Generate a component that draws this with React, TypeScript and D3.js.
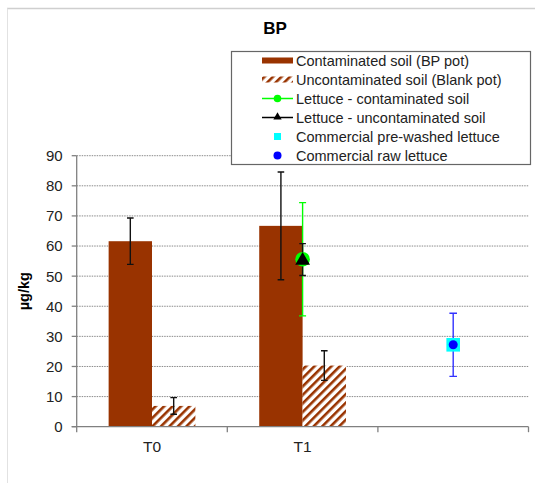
import React, { useEffect, useRef } from 'react';
import * as d3 from 'd3';

const categories = ['T0', 'T1', ''];
const yTicks = [0, 10, 20, 30, 40, 50, 60, 70, 80, 90];

// bar series: value and +/- error per category
const contaminatedSoil = [61.6, 66.7];
const contaminatedSoilErr = [7.7, 17.9];
const uncontaminatedSoil = [6.9, 20.3];
const uncontaminatedSoilErr = [2.75, 4.9];

// point series: category index, value, error
const lettuceContaminated = [{ cat: 'T1', value: 55.6, err: 18.8 }];
const lettuceUncontaminated = [{ cat: 'T1', value: 55.5, err: 5.3 }];
const commercialPrewashed = [{ cat: '', value: 27.2, err: 0 }];
const commercialRaw = [{ cat: '', value: 27.2, err: 10.5 }];

const legendLabels = [
  'Contaminated soil (BP pot)',
  'Uncontaminated soil (Blank pot)',
  'Lettuce - contaminated soil',
  'Lettuce - uncontaminated soil',
  'Commercial pre-washed lettuce',
  'Commercial raw lettuce'
];

const BROWN = '#993300';
const FONT = 'Arial, "Liberation Sans", sans-serif';

const App = () => {
  const ref = useRef<SVGSVGElement>(null);

  useEffect(() => {
    const width = 535;
    const height = 483;
    const margin = { top: 155.7, right: 6.5, bottom: 56.3, left: 76.7 };

    const svg = d3.select(ref.current);
    svg.selectAll('*').remove();
    svg.attr('width', width).attr('height', height).style('font-family', FONT);

    const defs = svg.append('defs');
    const pat = defs
      .append('pattern')
      .attr('id', 'hatch')
      .attr('patternUnits', 'userSpaceOnUse')
      .attr('width', 6)
      .attr('height', 6)
      .attr('patternTransform', 'rotate(45)');
    pat.append('rect').attr('width', 6).attr('height', 6).attr('fill', '#fff');
    pat.append('rect').attr('width', 2.6).attr('height', 6).attr('fill', BROWN);

    // frame lines
    svg.append('line').attr('x1', 7).attr('x2', width).attr('y1', 8.5).attr('y2', 8.5)
      .attr('stroke', '#cfcfcf').attr('stroke-width', 1.5);
    svg.append('line').attr('x1', 7.5).attr('x2', 7.5).attr('y1', 8.5).attr('y2', height)
      .attr('stroke', '#e2e2e2').attr('stroke-width', 1);

    const x = d3
      .scaleBand()
      .domain(categories)
      .range([margin.left, width - margin.right])
      .paddingInner(0)
      .paddingOuter(0);

    const y = d3
      .scaleLinear()
      .domain([0, 90])
      .range([height - margin.bottom, margin.top]);

    const barW = x.bandwidth() * 0.288;
    const center = (c: string) => (x(c) as number) + x.bandwidth() / 2;

    // grid
    svg
      .append('g')
      .selectAll('line')
      .data(yTicks.filter(d => d > 0))
      .join('line')
      .attr('x1', margin.left)
      .attr('x2', width - margin.right)
      .attr('y1', d => y(d))
      .attr('y2', d => y(d))
      .attr('stroke', '#8a8a8a')
      .attr('stroke-dasharray', '1.5,1');

    // bars
    const barData = categories.slice(0, 2).map((c, i) => ({
      c,
      v1: contaminatedSoil[i],
      e1: contaminatedSoilErr[i],
      v2: uncontaminatedSoil[i],
      e2: uncontaminatedSoilErr[i]
    }));

    const bars = svg.append('g');
    bars
      .selectAll('rect.c')
      .data(barData)
      .join('rect')
      .attr('class', 'c')
      .attr('x', d => center(d.c) - barW)
      .attr('y', d => y(d.v1))
      .attr('width', barW)
      .attr('height', d => y(0) - y(d.v1))
      .attr('fill', BROWN);
    bars
      .selectAll('rect.u')
      .data(barData)
      .join('rect')
      .attr('class', 'u')
      .attr('x', d => center(d.c))
      .attr('y', d => y(d.v2))
      .attr('width', barW)
      .attr('height', d => y(0) - y(d.v2))
      .attr('fill', 'url(#hatch)');

    const errorBar = (g: any, cx: number, v: number, e: number, color: string, cap = 3.3) => {
      const p = d3.path();
      p.moveTo(cx, y(v + e));
      p.lineTo(cx, y(v - e));
      p.moveTo(cx - cap, y(v + e));
      p.lineTo(cx + cap, y(v + e));
      p.moveTo(cx - cap, y(v - e));
      p.lineTo(cx + cap, y(v - e));
      g.append('path').attr('d', p.toString()).attr('stroke', color).attr('stroke-width', 1.4).attr('fill', 'none');
    };

    const eg = svg.append('g');
    barData.forEach(d => {
      errorBar(eg, center(d.c) - barW / 2, d.v1, d.e1, '#111');
      errorBar(eg, center(d.c) + barW / 2, d.v2, d.e2, '#111');
    });

    // axes
    const axisG = svg.append('g').attr('stroke', '#808080').attr('stroke-width', 1.3);
    axisG.append('line').attr('x1', margin.left).attr('x2', margin.left).attr('y1', y(90)).attr('y2', y(0));
    axisG.append('line').attr('x1', margin.left - 5).attr('x2', width - margin.right).attr('y1', y(0)).attr('y2', y(0));
    axisG
      .selectAll('line.yt')
      .data(yTicks)
      .join('line')
      .attr('class', 'yt')
      .attr('x1', margin.left - 5)
      .attr('x2', margin.left)
      .attr('y1', d => y(d))
      .attr('y2', d => y(d));
    axisG
      .selectAll('line.xt')
      .data([...categories.map(c => x(c) as number), width - margin.right])
      .join('line')
      .attr('class', 'xt')
      .attr('x1', d => d)
      .attr('x2', d => d)
      .attr('y1', y(0))
      .attr('y2', y(0) + 5.5);

    svg
      .append('g')
      .selectAll('text')
      .data(yTicks)
      .join('text')
      .attr('x', margin.left - 14)
      .attr('y', d => y(d))
      .attr('dy', '0.36em')
      .attr('text-anchor', 'end')
      .attr('font-size', 15)
      .attr('fill', '#222')
      .text(d => d);

    svg
      .append('g')
      .selectAll('text')
      .data(categories)
      .join('text')
      .attr('x', d => center(d))
      .attr('y', y(0) + 20)
      .attr('dy', '0.36em')
      .attr('text-anchor', 'middle')
      .attr('font-size', 15.5)
      .attr('fill', '#222')
      .text(d => d);

    svg.append('text')
      .attr('transform', `translate(28.5,${(y(0) + y(90)) / 2}) rotate(-90)`)
      .attr('text-anchor', 'middle')
      .attr('font-size', 14.5)
      .attr('font-weight', 'bold')
      .text('µg/kg');

    svg.append('text')
      .attr('x', 275)
      .attr('y', 28)
      .attr('dy', '0.36em')
      .attr('text-anchor', 'middle')
      .attr('font-size', 17)
      .attr('font-weight', 'bold')
      .text('BP');

    // point series
    const pg = svg.append('g');
    lettuceContaminated.forEach(d => errorBar(pg, center(d.cat), d.value, d.err, '#00ff00', 3.5));
    lettuceUncontaminated.forEach(d => errorBar(pg, center(d.cat), d.value, d.err, '#111', 3.3));
    commercialRaw.forEach(d => errorBar(pg, center(d.cat), d.value, d.err, '#3333ff', 3.8));

    pg.selectAll('circle.lc')
      .data(lettuceContaminated)
      .join('circle')
      .attr('class', 'lc')
      .attr('cx', d => center(d.cat))
      .attr('cy', d => y(d.value))
      .attr('r', 7.3)
      .attr('fill', '#00ff00');
    pg.selectAll('path.lu')
      .data(lettuceUncontaminated)
      .join('path')
      .attr('class', 'lu')
      .attr('transform', d => `translate(${center(d.cat)},${y(d.value) + 1})`)
      .attr('d', d3.symbol(d3.symbolTriangle, 95)())
      .attr('fill', '#000');
    pg.selectAll('rect.cp')
      .data(commercialPrewashed)
      .join('rect')
      .attr('class', 'cp')
      .attr('x', d => center(d.cat) - 6.8)
      .attr('y', d => y(d.value) - 6.8)
      .attr('width', 13.6)
      .attr('height', 13.6)
      .attr('fill', '#00ffff');
    pg.selectAll('circle.cr')
      .data(commercialRaw)
      .join('circle')
      .attr('class', 'cr')
      .attr('cx', d => center(d.cat))
      .attr('cy', d => y(d.value))
      .attr('r', 4.5)
      .attr('fill', '#0000ff');

    // legend
    const lg = svg.append('g');
    lg.append('rect')
      .attr('x', 231.5)
      .attr('y', 51.5)
      .attr('width', 299)
      .attr('height', 113)
      .attr('fill', '#fff')
      .attr('stroke', '#666')
      .attr('stroke-width', 1.2);

    const rowY = (i: number) => 60.5 + i * 19;
    const sx0 = 262;
    const sx1 = 293;
    const sxm = (sx0 + sx1) / 2;

    lg.append('rect').attr('x', sx0).attr('y', rowY(0) - 3).attr('width', sx1 - sx0).attr('height', 6).attr('fill', BROWN);
    lg.append('rect').attr('x', sx0).attr('y', rowY(1) - 3).attr('width', sx1 - sx0).attr('height', 6).attr('fill', 'url(#hatch)');
    lg.append('line').attr('x1', sx0).attr('x2', sx1).attr('y1', rowY(2)).attr('y2', rowY(2)).attr('stroke', '#00ff00').attr('stroke-width', 1.5);
    lg.append('circle').attr('cx', sxm).attr('cy', rowY(2)).attr('r', 3.8).attr('fill', '#00ff00');
    lg.append('line').attr('x1', sx0).attr('x2', sx1).attr('y1', rowY(3)).attr('y2', rowY(3)).attr('stroke', '#000').attr('stroke-width', 1.5);
    lg.append('path').attr('transform', `translate(${sxm},${rowY(3) - 0.5})`).attr('d', d3.symbol(d3.symbolTriangle, 30)()).attr('fill', '#000');
    lg.append('rect').attr('x', sxm - 3.5).attr('y', rowY(4) - 3.5).attr('width', 7).attr('height', 7).attr('fill', '#00ffff');
    lg.append('circle').attr('cx', sxm).attr('cy', rowY(5)).attr('r', 4).attr('fill', '#0000ff');

    lg.selectAll('text')
      .data(legendLabels)
      .join('text')
      .attr('x', 296)
      .attr('y', (d, i) => rowY(i))
      .attr('dy', '0.36em')
      .attr('font-size', 14.5)
      .attr('fill', '#222')
      .text(d => d);
  }, []);

  return (
    <div style={{ position: 'absolute', left: 0, top: 0 }}>
      <svg ref={ref}></svg>
    </div>
  );
};

export default App;
